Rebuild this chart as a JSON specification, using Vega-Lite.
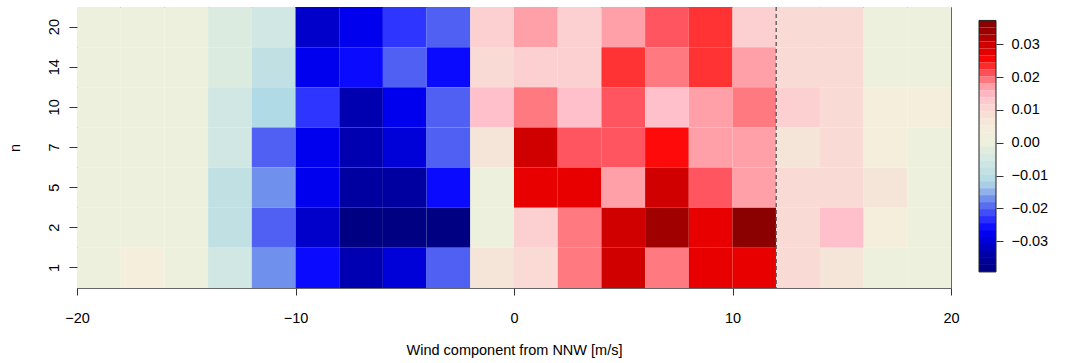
{
  "$schema": "https://vega.github.io/schema/vega-lite/v6.json",
  "padding": {"left": 6, "top": 5, "right": 5, "bottom": 5},
  "background": "white",
  "bounds": "flush",
  "spacing": 28,
  "config": {
    "font": "Liberation Sans",
    "view": {"stroke": null},
    "axis": {
      "labelFont": "Liberation Sans",
      "titleFont": "Liberation Sans",
      "labelFontSize": 14.5,
      "titleFontSize": 14.5,
      "titleFontWeight": "normal",
      "labelColor": "#000000",
      "titleColor": "#000000",
      "tickColor": "#333333",
      "labelFlush": false,
      "grid": false,
      "domain": false
    }
  },
  "datasets": {
    "cells": [
      {"n":"20","u":-20,"u2":-18,"v":0},{"n":"20","u":-18,"u2":-16,"v":0},{"n":"20","u":-16,"u2":-14,"v":0},{"n":"20","u":-14,"u2":-12,"v":-0.003},{"n":"20","u":-12,"u2":-10,"v":-0.006},
      {"n":"20","u":-10,"u2":-8,"v":-0.031},{"n":"20","u":-8,"u2":-6,"v":-0.028},{"n":"20","u":-6,"u2":-4,"v":-0.023},{"n":"20","u":-4,"u2":-2,"v":-0.020},{"n":"20","u":-2,"u2":0,"v":0.012},
      {"n":"20","u":0,"u2":2,"v":0.017},{"n":"20","u":2,"u2":4,"v":0.012},{"n":"20","u":4,"u2":6,"v":0.017},{"n":"20","u":6,"u2":8,"v":0.021},{"n":"20","u":8,"u2":10,"v":0.023},
      {"n":"20","u":10,"u2":12,"v":0.012},{"n":"20","u":12,"u2":14,"v":0.010},{"n":"20","u":14,"u2":16,"v":0.010},{"n":"20","u":16,"u2":18,"v":0},{"n":"20","u":18,"u2":20,"v":0},

      {"n":"14","u":-20,"u2":-18,"v":0},{"n":"14","u":-18,"u2":-16,"v":0},{"n":"14","u":-16,"u2":-14,"v":0},{"n":"14","u":-14,"u2":-12,"v":-0.003},{"n":"14","u":-12,"u2":-10,"v":-0.009},
      {"n":"14","u":-10,"u2":-8,"v":-0.028},{"n":"14","u":-8,"u2":-6,"v":-0.026},{"n":"14","u":-6,"u2":-4,"v":-0.020},{"n":"14","u":-4,"u2":-2,"v":-0.026},{"n":"14","u":-2,"u2":0,"v":0.010},
      {"n":"14","u":0,"u2":2,"v":0.012},{"n":"14","u":2,"u2":4,"v":0.012},{"n":"14","u":4,"u2":6,"v":0.023},{"n":"14","u":6,"u2":8,"v":0.019},{"n":"14","u":8,"u2":10,"v":0.023},
      {"n":"14","u":10,"u2":12,"v":0.017},{"n":"14","u":12,"u2":14,"v":0.010},{"n":"14","u":14,"u2":16,"v":0.010},{"n":"14","u":16,"u2":18,"v":0},{"n":"14","u":18,"u2":20,"v":0},

      {"n":"10","u":-20,"u2":-18,"v":0},{"n":"10","u":-18,"u2":-16,"v":0},{"n":"10","u":-16,"u2":-14,"v":0},{"n":"10","u":-14,"u2":-12,"v":-0.006},{"n":"10","u":-12,"u2":-10,"v":-0.012},
      {"n":"10","u":-10,"u2":-8,"v":-0.023},{"n":"10","u":-8,"u2":-6,"v":-0.033},{"n":"10","u":-6,"u2":-4,"v":-0.028},{"n":"10","u":-4,"u2":-2,"v":-0.020},{"n":"10","u":-2,"u2":0,"v":0.014},
      {"n":"10","u":0,"u2":2,"v":0.019},{"n":"10","u":2,"u2":4,"v":0.014},{"n":"10","u":4,"u2":6,"v":0.021},{"n":"10","u":6,"u2":8,"v":0.014},{"n":"10","u":8,"u2":10,"v":0.017},
      {"n":"10","u":10,"u2":12,"v":0.019},{"n":"10","u":12,"u2":14,"v":0.012},{"n":"10","u":14,"u2":16,"v":0.010},{"n":"10","u":16,"u2":18,"v":0.004},{"n":"10","u":18,"u2":20,"v":0.004},

      {"n":"7","u":-20,"u2":-18,"v":0},{"n":"7","u":-18,"u2":-16,"v":0},{"n":"7","u":-16,"u2":-14,"v":0},{"n":"7","u":-14,"u2":-12,"v":-0.006},{"n":"7","u":-12,"u2":-10,"v":-0.020},
      {"n":"7","u":-10,"u2":-8,"v":-0.028},{"n":"7","u":-8,"u2":-6,"v":-0.033},{"n":"7","u":-6,"u2":-4,"v":-0.030},{"n":"7","u":-4,"u2":-2,"v":-0.020},{"n":"7","u":-2,"u2":0,"v":0.007},
      {"n":"7","u":0,"u2":2,"v":0.030},{"n":"7","u":2,"u2":4,"v":0.021},{"n":"7","u":4,"u2":6,"v":0.021},{"n":"7","u":6,"u2":8,"v":0.025},{"n":"7","u":8,"u2":10,"v":0.017},
      {"n":"7","u":10,"u2":12,"v":0.017},{"n":"7","u":12,"u2":14,"v":0.007},{"n":"7","u":14,"u2":16,"v":0.010},{"n":"7","u":16,"u2":18,"v":0.004},{"n":"7","u":18,"u2":20,"v":0},

      {"n":"5","u":-20,"u2":-18,"v":0},{"n":"5","u":-18,"u2":-16,"v":0},{"n":"5","u":-16,"u2":-14,"v":0},{"n":"5","u":-14,"u2":-12,"v":-0.009},{"n":"5","u":-12,"u2":-10,"v":-0.017},
      {"n":"5","u":-10,"u2":-8,"v":-0.028},{"n":"5","u":-8,"u2":-6,"v":-0.035},{"n":"5","u":-6,"u2":-4,"v":-0.035},{"n":"5","u":-4,"u2":-2,"v":-0.026},{"n":"5","u":-2,"u2":0,"v":0},
      {"n":"5","u":0,"u2":2,"v":0.027},{"n":"5","u":2,"u2":4,"v":0.027},{"n":"5","u":4,"u2":6,"v":0.017},{"n":"5","u":6,"u2":8,"v":0.030},{"n":"5","u":8,"u2":10,"v":0.021},
      {"n":"5","u":10,"u2":12,"v":0.017},{"n":"5","u":12,"u2":14,"v":0.010},{"n":"5","u":14,"u2":16,"v":0.010},{"n":"5","u":16,"u2":18,"v":0.007},{"n":"5","u":18,"u2":20,"v":0},

      {"n":"2","u":-20,"u2":-18,"v":0},{"n":"2","u":-18,"u2":-16,"v":0},{"n":"2","u":-16,"u2":-14,"v":0},{"n":"2","u":-14,"u2":-12,"v":-0.009},{"n":"2","u":-12,"u2":-10,"v":-0.020},
      {"n":"2","u":-10,"u2":-8,"v":-0.031},{"n":"2","u":-8,"u2":-6,"v":-0.039},{"n":"2","u":-6,"u2":-4,"v":-0.039},{"n":"2","u":-4,"u2":-2,"v":-0.039},{"n":"2","u":-2,"u2":0,"v":0},
      {"n":"2","u":0,"u2":2,"v":0.012},{"n":"2","u":2,"u2":4,"v":0.019},{"n":"2","u":4,"u2":6,"v":0.030},{"n":"2","u":6,"u2":8,"v":0.033},{"n":"2","u":8,"u2":10,"v":0.027},
      {"n":"2","u":10,"u2":12,"v":0.036},{"n":"2","u":12,"u2":14,"v":0.010},{"n":"2","u":14,"u2":16,"v":0.014},{"n":"2","u":16,"u2":18,"v":0.004},{"n":"2","u":18,"u2":20,"v":0},

      {"n":"1","u":-20,"u2":-18,"v":0},{"n":"1","u":-18,"u2":-16,"v":0.004},{"n":"1","u":-16,"u2":-14,"v":0},{"n":"1","u":-14,"u2":-12,"v":-0.006},{"n":"1","u":-12,"u2":-10,"v":-0.017},
      {"n":"1","u":-10,"u2":-8,"v":-0.026},{"n":"1","u":-8,"u2":-6,"v":-0.033},{"n":"1","u":-6,"u2":-4,"v":-0.030},{"n":"1","u":-4,"u2":-2,"v":-0.020},{"n":"1","u":-2,"u2":0,"v":0.007},
      {"n":"1","u":0,"u2":2,"v":0.010},{"n":"1","u":2,"u2":4,"v":0.019},{"n":"1","u":4,"u2":6,"v":0.030},{"n":"1","u":6,"u2":8,"v":0.019},{"n":"1","u":8,"u2":10,"v":0.027},
      {"n":"1","u":10,"u2":12,"v":0.027},{"n":"1","u":12,"u2":14,"v":0.010},{"n":"1","u":14,"u2":16,"v":0.007},{"n":"1","u":16,"u2":18,"v":0},{"n":"1","u":18,"u2":20,"v":0}
    ],
    "bands": [
      {"lo":-0.0394,"hi":-0.03727,"mid":-0.03833},{"lo":-0.03727,"hi":-0.03514,"mid":-0.03620},{"lo":-0.03514,"hi":-0.03301,"mid":-0.03407},
      {"lo":-0.03301,"hi":-0.03088,"mid":-0.03194},{"lo":-0.03088,"hi":-0.02875,"mid":-0.02981},{"lo":-0.02875,"hi":-0.02662,"mid":-0.02768},
      {"lo":-0.02662,"hi":-0.02449,"mid":-0.02555},{"lo":-0.02449,"hi":-0.02235,"mid":-0.02342},{"lo":-0.02235,"hi":-0.02022,"mid":-0.02129},
      {"lo":-0.02022,"hi":-0.01809,"mid":-0.01916},{"lo":-0.01809,"hi":-0.01596,"mid":-0.01703},{"lo":-0.01596,"hi":-0.01383,"mid":-0.01490},
      {"lo":-0.01383,"hi":-0.01170,"mid":-0.01277},{"lo":-0.01170,"hi":-0.00957,"mid":-0.01064},{"lo":-0.00957,"hi":-0.00744,"mid":-0.00851},
      {"lo":-0.00744,"hi":-0.00531,"mid":-0.00638},{"lo":-0.00531,"hi":-0.00318,"mid":-0.00424},{"lo":-0.00318,"hi":-0.00105,"mid":-0.00211},
      {"lo":-0.00105,"hi":0.00108,"mid":0.00002},{"lo":0.00108,"hi":0.00321,"mid":0.00215},{"lo":0.00321,"hi":0.00534,"mid":0.00428},
      {"lo":0.00534,"hi":0.00747,"mid":0.00641},{"lo":0.00747,"hi":0.00960,"mid":0.00854},{"lo":0.00960,"hi":0.01173,"mid":0.01067},
      {"lo":0.01173,"hi":0.01386,"mid":0.01280},{"lo":0.01386,"hi":0.01600,"mid":0.01493},{"lo":0.01600,"hi":0.01813,"mid":0.01706},
      {"lo":0.01813,"hi":0.02026,"mid":0.01919},{"lo":0.02026,"hi":0.02239,"mid":0.02132},{"lo":0.02239,"hi":0.02452,"mid":0.02346},
      {"lo":0.02452,"hi":0.02665,"mid":0.02559},{"lo":0.02665,"hi":0.02878,"mid":0.02772},{"lo":0.02878,"hi":0.03091,"mid":0.02985},
      {"lo":0.03091,"hi":0.03304,"mid":0.03198},{"lo":0.03304,"hi":0.03517,"mid":0.03411},{"lo":0.03517,"hi":0.0373,"mid":0.03624}
    ]
  },
  "hconcat": [
    {
      "width": 874,
      "height": 281,
      "view": {"stroke": "#666666", "strokeWidth": 1},
      "layer": [
        {
          "data": {"name": "cells"},
          "mark": {"type": "rect", "strokeWidth": 0},
          "encoding": {
            "x": {
              "field": "u", "type": "quantitative",
              "scale": {"domain": [-20, 20], "nice": false, "zero": false},
              "axis": {"values": [-20, -10, 0, 10, 20], "tickSize": 7, "labelPadding": 16, "titlePadding": 19, "title": "Wind component from NNW [m/s]"}
            },
            "x2": {"field": "u2"},
            "y": {
              "field": "n", "type": "ordinal",
              "sort": ["20", "14", "10", "7", "5", "2", "1"],
              "scale": {"paddingInner": 0, "paddingOuter": 0},
              "axis": {"title": "n", "labelAngle": -90, "labelAlign": "center", "labelBaseline": "bottom", "tickSize": 8, "labelPadding": 8, "titlePadding": 24}
            },
            "fill": {
              "field": "v", "type": "quantitative",
              "scale": {
                "type": "linear", "interpolate": "rgb",
                "domain": [-0.0394, -0.037, -0.035, -0.033, -0.030, -0.028, -0.026, -0.023, -0.020, -0.017, -0.015, -0.012, -0.009, -0.006, -0.003, 0, 0.004, 0.007, 0.010, 0.012, 0.014, 0.017, 0.019, 0.021, 0.023, 0.025, 0.027, 0.030, 0.033, 0.036, 0.0373],
                "range": ["#000080","#000090","#0000A0","#0000B0","#0000D8","#0000EE","#0A0AFF","#2D35FF","#5060F2","#7090EE","#90B0EA","#B0DAE5","#C0E0E3","#D0E7E3","#DCEBE0","#ECF0DC","#F5EEDC","#F5E5D8","#F9DAD4","#FCCFD0","#FFC0CC","#FFA0A8","#FF7A80","#FF5560","#FF3333","#FF0A0A","#E80000","#D00000","#A00000","#8B0000","#800000"]
              },
              "legend": null
            }
          }
        },
        {
          "data": {"values": [{"u": 12}]},
          "mark": {"type": "rule", "color": "#555555", "strokeWidth": 1.3, "strokeDash": [4, 3]},
          "encoding": {"x": {"field": "u", "type": "quantitative"}}
        }
      ]
    },
    {
      "width": 17,
      "height": 281,
      "layer": [
        {
          "data": {"name": "bands"},
          "mark": {"type": "rect", "strokeWidth": 0},
          "encoding": {
            "y": {
              "field": "lo", "type": "quantitative",
              "scale": {"domain": [-0.0443, 0.0414], "nice": false, "zero": false},
              "axis": {"orient": "right", "values": [-0.03, -0.02, -0.01, 0, 0.01, 0.02, 0.03], "format": ".2f", "tickSize": 7, "labelPadding": 8, "title": null}
            },
            "y2": {"field": "hi"},
            "fill": {
              "field": "mid", "type": "quantitative",
              "scale": {
                "type": "linear", "interpolate": "rgb",
                "domain": [-0.0394, -0.037, -0.035, -0.033, -0.030, -0.028, -0.026, -0.023, -0.020, -0.017, -0.015, -0.012, -0.009, -0.006, -0.003, 0, 0.004, 0.007, 0.010, 0.012, 0.014, 0.017, 0.019, 0.021, 0.023, 0.025, 0.027, 0.030, 0.033, 0.036, 0.0373],
                "range": ["#000080","#000090","#0000A0","#0000B0","#0000D8","#0000EE","#0A0AFF","#2D35FF","#5060F2","#7090EE","#90B0EA","#B0DAE5","#C0E0E3","#D0E7E3","#DCEBE0","#ECF0DC","#F5EEDC","#F5E5D8","#F9DAD4","#FCCFD0","#FFC0CC","#FFA0A8","#FF7A80","#FF5560","#FF3333","#FF0A0A","#E80000","#D00000","#A00000","#8B0000","#800000"]
              },
              "legend": null
            }
          }
        },
        {
          "data": {"values": [{"lo": -0.0394, "hi": 0.0373}]},
          "mark": {"type": "rect", "fillOpacity": 0, "stroke": "#222222", "strokeWidth": 1},
          "encoding": {
            "y": {"field": "lo", "type": "quantitative"},
            "y2": {"field": "hi"}
          }
        }
      ]
    }
  ]
}
